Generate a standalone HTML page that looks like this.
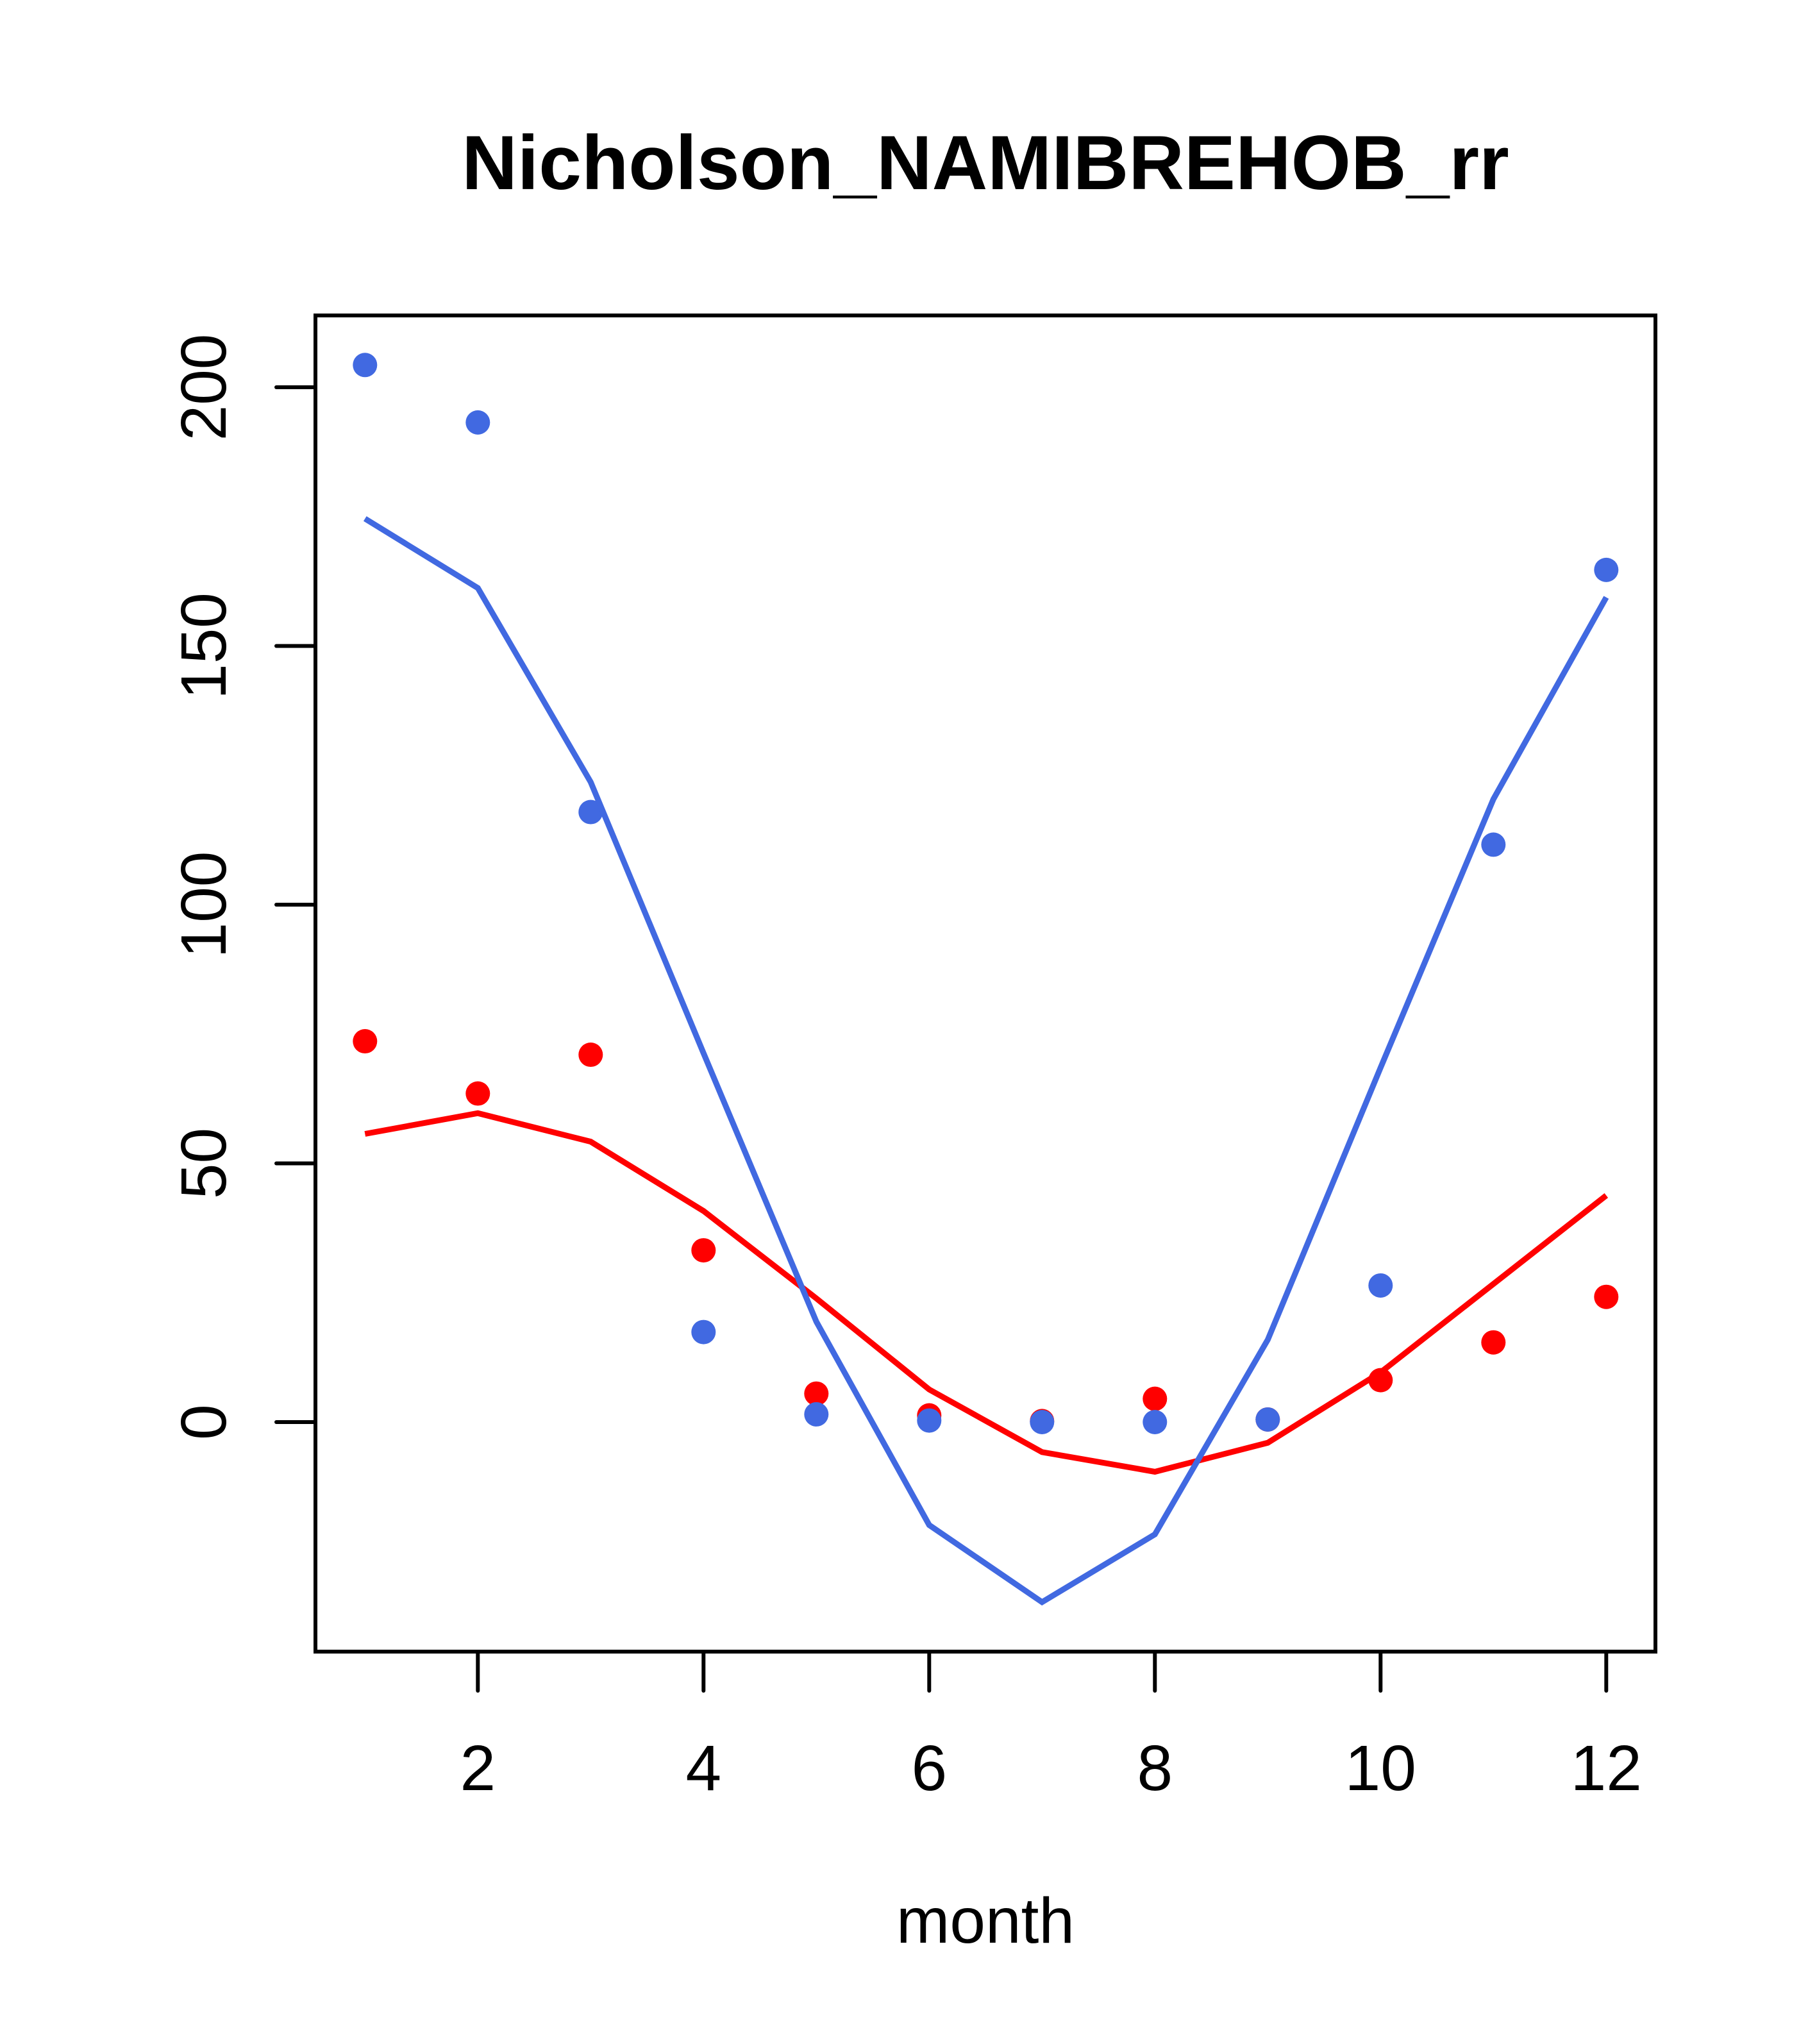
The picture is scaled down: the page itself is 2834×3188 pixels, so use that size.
<!DOCTYPE html>
<html><head><meta charset="utf-8"><style>body{margin:0;background:#fff}svg{display:block}</style></head>
<body>
<svg id="chart" width="2834" height="3188" xmlns="http://www.w3.org/2000/svg" font-family="'Liberation Sans', sans-serif">
<rect width="2834" height="3188" fill="#fff"/>
<text x="1537" y="295" font-size="120" font-weight="bold" text-anchor="middle">Nicholson_NAMIBREHOB_rr</text>
<g id="plot"></g>
<text x="1537" y="3030" font-size="100" text-anchor="middle">month</text>
</svg>
<script>
const months=[1,2,3,4,5,6,7,8,9,10,11,12];
const bluePoints=[204.3,193.2,117.9,17.4,1.5,0.3,0,0,0.5,26.4,111.6,164.7];
const blueLine=[174.6,161.2,123.7,71.3,19.4,-19.9,-34.8,-21.7,15.9,68.5,120.4,159.4];
const redPoints=[73.6,63.5,71,33.2,5.5,1.3,0.2,4.5,0.5,8.1,15.4,24.2];
const redLine=[55.7,59.7,54.2,40.8,23.9,6.3,-5.8,-9.6,-4,9.6,26.7,43.8];
const xTicks=[2,4,6,8,10,12];
const yTicks=[0,50,100,150,200];
const NS="http://www.w3.org/2000/svg";
const X=m=>569.3+(m-1)*176;
const Y=v=>2218-v*8.07;
const g=document.getElementById('plot');
function mk(t,a){const e=document.createElementNS(NS,t);for(const k in a)e.setAttribute(k,a[k]);g.appendChild(e);return e;}
let box=mk('rect',{x:492,y:492,width:2090,height:2084,fill:'none',stroke:'#000','stroke-width':6});


xTicks.forEach(t=>{
 let l=mk('line',{x1:X(t),x2:X(t),y1:2576,y2:2637,stroke:'#000','stroke-width':6,'stroke-linecap':'round'});
 
 
 let tx=mk('text',{x:X(t),y:2792,'font-size':100,'text-anchor':'middle'});tx.textContent=t;
 
 
});
yTicks.forEach(t=>{
 let l=mk('line',{x1:431,x2:492,y1:Y(t),y2:Y(t),stroke:'#000','stroke-width':6,'stroke-linecap':'round'});
 
 
 let tx=mk('text',{x:0,y:0,'font-size':100,'text-anchor':'middle',transform:`translate(352,${Y(t)}) rotate(-90)`});tx.textContent=t;
 
 
});
function series(pts,line,col,name){
 pts.forEach((v,i)=>{
  let c=mk('circle',{cx:X(months[i]),cy:Y(v),r:19,fill:col});
  
  
 });
 let p=mk('polyline',{points:line.map((v,i)=>X(months[i])+','+Y(v)).join(' '),fill:'none',stroke:col,'stroke-width':9});
 
 
}
series(redPoints,redLine,'#ff0000','red');
series(bluePoints,blueLine,'#4169e1','blue');
</script>
</body></html>
